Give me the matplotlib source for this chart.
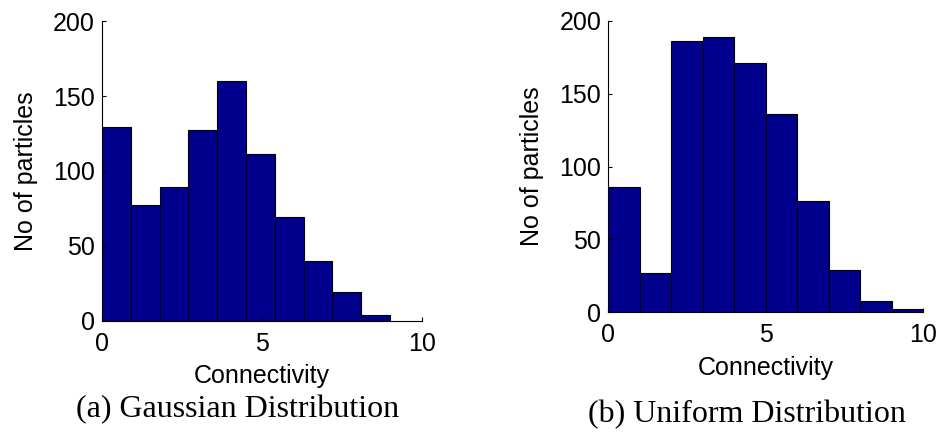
import matplotlib
matplotlib.use('Agg')
import matplotlib.pyplot as plt

# ---- Data ----
gauss_edges = [0.0, 0.9, 1.8, 2.7, 3.6, 4.5, 5.4, 6.3, 7.2, 8.1, 9.0]
gauss_counts = [129, 77, 89, 127, 160, 111, 69, 40, 19, 4]

unif_edges = [0, 1, 2, 3, 4, 5, 6, 7, 8, 9, 10]
unif_counts = [86, 27, 186, 189, 171, 136, 76, 29, 8, 2]

x_ticks = [0, 5, 10]
y_ticks = [0, 50, 100, 150, 200]

BAR_COLOR = '#00008C'
SANS = ['Liberation Sans', 'DejaVu Sans']
SERIF = ['Liberation Serif', 'DejaVu Serif']


def draw_hist(ax, edges, counts):
    widths = [b - a for a, b in zip(edges[:-1], edges[1:])]
    ax.bar(edges[:-1], counts, width=widths, align='edge',
           color=BAR_COLOR, edgecolor='black', linewidth=0.8)
    ax.set_xlim(0, 10)
    ax.set_ylim(0, 200)
    ax.set_xticks(x_ticks)
    ax.set_yticks(y_ticks)
    for s in ('top', 'right'):
        ax.spines[s].set_visible(False)
    ax.spines['left'].set_linewidth(0.8)
    ax.spines['bottom'].set_linewidth(0.8)
    ax.tick_params(direction='in', length=3, width=0.8, labelsize=18)
    ax.tick_params(axis='x', pad=8)
    ax.tick_params(axis='y', pad=5)
    for lab in ax.get_xticklabels() + ax.get_yticklabels():
        lab.set_family(SANS)
    ax.set_xlabel('Connectivity', fontsize=18, family=SANS, labelpad=6)
    ax.set_ylabel('No of particles', fontsize=18, family=SANS, labelpad=11)


fig = plt.figure(figsize=(9.39, 4.34), dpi=100)
ax1 = fig.add_axes([0.1086, 0.2604, 0.3408, 0.6912])
ax2 = fig.add_axes([0.6478, 0.2804, 0.3355, 0.6719])

draw_hist(ax1, gauss_edges, gauss_counts)
draw_hist(ax2, unif_edges, unif_counts)

fig.text(238 / 939, 1 - 410 / 434, '(a) Gaussian Distribution',
         ha='center', va='center', fontsize=23, family=SERIF)
fig.text(747 / 939, 1 - 415 / 434, '(b) Uniform Distribution',
         ha='center', va='center', fontsize=23, family=SERIF)

fig.savefig('out.png', dpi=100, facecolor='white')
